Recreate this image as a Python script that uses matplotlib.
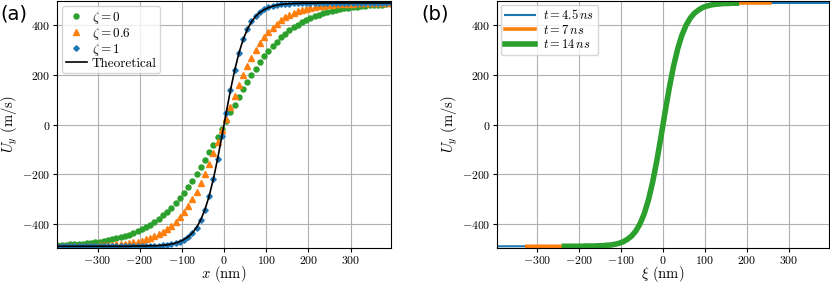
import numpy as np
import matplotlib
matplotlib.use("Agg")
import matplotlib.pyplot as plt

# Fontes estilo LaTeX
plt.rcParams['font.family'] = 'serif'
plt.rcParams['font.serif'] = ['cmr10']
plt.rcParams['mathtext.fontset'] = 'cm'
plt.rcParams['axes.formatter.use_mathtext'] = True
plt.rcParams['axes.unicode_minus'] = True

# ---- dados painel (a) ----
x_nm = np.arange(-395, 400, 10)

uy_zeta0 = [-485, -484, -483, -482, -481, -480, -479, -477, -475, -473,
            -471, -468, -465, -462, -458, -454, -449, -443, -437, -430,
            -422, -413, -403, -392, -380, -366, -351, -334, -316, -296,
            -275, -251, -226, -200, -172, -143, -112, -81, -49, -16,
            16, 49, 81, 112, 143, 172, 200, 226, 251, 275,
            296, 316, 334, 351, 366, 380, 392, 403, 413, 422,
            430, 437, 443, 449, 454, 458, 462, 465, 468, 471,
            473, 475, 477, 479, 480, 481, 482, 483, 484, 485]

uy_zeta06 = [-489, -489, -489, -489, -489, -489, -488, -488, -488, -487,
             -486, -486, -485, -484, -482, -481, -479, -477, -474, -471,
             -467, -462, -456, -449, -441, -432, -420, -407, -391, -373,
             -352, -328, -301, -270, -236, -198, -158, -115, -70, -23,
             23, 70, 115, 158, 198, 236, 270, 301, 328, 352,
             373, 391, 407, 420, 432, 441, 449, 456, 462, 467,
             471, 474, 477, 479, 481, 482, 484, 485, 486, 486,
             487, 488, 488, 488, 489, 489, 489, 489, 489, 489]

uy_zeta1 = [-490, -490, -490, -490, -490, -490, -490, -490, -490, -490,
            -490, -490, -490, -490, -490, -490, -490, -490, -490, -489,
            -489, -489, -488, -488, -487, -486, -485, -482, -478, -473,
            -465, -454, -438, -416, -385, -343, -288, -219, -138, -47,
            47, 138, 219, 288, 343, 385, 416, 438, 454, 465,
            473, 478, 482, 485, 486, 487, 488, 488, 489, 489,
            489, 490, 490, 490, 490, 490, 490, 490, 490, 490,
            490, 490, 490, 490, 490, 490, 490, 490, 490, 490]

uy_theory = [-490, -490, -490, -490, -490, -490, -490, -490, -490, -490,
             -490, -490, -490, -490, -490, -490, -490, -490, -489, -489,
             -489, -489, -488, -488, -487, -486, -484, -481, -477, -471,
             -463, -452, -436, -414, -383, -341, -286, -217, -136, -46,
             46, 136, 217, 286, 341, 383, 414, 436, 452, 463,
             471, 477, 481, 484, 486, 487, 488, 488, 489, 489,
             489, 489, 490, 490, 490, 490, 490, 490, 490, 490,
             490, 490, 490, 490, 490, 490, 490, 490, 490, 490]

# ---- dados painel (b) ----
xi_45 = np.arange(-395, 400, 10)
uy_45 = [-490, -490, -490, -490, -490, -490, -490, -490, -490, -490,
         -490, -490, -490, -490, -490, -490, -490, -490, -490, -490,
         -490, -489, -489, -489, -488, -488, -486, -485, -482, -478,
         -472, -462, -449, -429, -400, -360, -305, -234, -148, -51,
         51, 148, 234, 305, 360, 400, 429, 449, 462, 472,
         478, 482, 485, 486, 488, 488, 489, 489, 490, 490,
         490, 490, 490, 490, 490, 490, 490, 490, 490, 490,
         490, 490, 490, 490, 490, 490, 490, 490, 490, 490]

xi_7 = np.arange(-325, 260, 10)
uy_7 = [-490, -490, -490, -490, -490, -490, -490, -490, -490, -490,
        -490, -490, -490, -490, -489, -489, -489, -488, -488, -486,
        -485, -482, -478, -472, -462, -449, -429, -400, -360, -305,
        -234, -148, -51,
        51, 148, 234, 305, 360, 400, 429, 449, 462, 472,
        478, 482, 485, 486, 488, 488, 489, 489, 490, 490,
        490, 490, 490, 490, 490, 490]

xi_14 = np.arange(-235, 180, 10)
uy_14 = [-490, -490, -490, -490, -490, -489, -489, -489, -488, -488,
         -486, -485, -482, -478, -472, -462, -449, -429, -400, -360,
         -305, -234, -148, -51,
         51, 148, 234, 305, 360, 400, 429, 449, 462, 472,
         478, 482, 485, 486, 488, 488, 489, 489]

xticks = [-300, -200, -100, 0, 100, 200, 300]
yticks = [-400, -200, 0, 200, 400]

fig = plt.figure(figsize=(8.3, 2.84), dpi=100)
ax1 = fig.add_axes([0.0687, 0.1285, 0.4024, 0.868])
ax2 = fig.add_axes([0.5988, 0.1285, 0.4000, 0.868])

# Painel (a)
ax1.plot(x_nm, uy_zeta0, 'o', color='C2', ms=3.6, label=r'$\zeta=0$')
ax1.plot(x_nm, uy_zeta06, '^', color='C1', ms=3.8, label=r'$\zeta=0.6$')
ax1.plot(x_nm, uy_zeta1, 'D', color='C0', ms=2.8, label=r'$\zeta=1$')
ax1.plot(x_nm, uy_theory, '-', color='black', lw=1.2, label='Theoretical')
ax1.set_xlabel(r'$x$ (nm)', fontsize=10.5, labelpad=-1)
ax1.set_ylabel(r'$U_y$ (m/s)', fontsize=10.5, labelpad=2)
ax1.legend(loc='upper left', fontsize=9.5, handlelength=1.6, handletextpad=0.4,
           labelspacing=0.0, borderpad=0.25, borderaxespad=0.4)

# Painel (b)
ax2.plot(xi_45, uy_45, '-', color='C0', lw=1.5, label=r'$t=4.5\,ns$')
ax2.plot(xi_7, uy_7, '-', color='C1', lw=2.6, label=r'$t=7\,ns$')
ax2.plot(xi_14, uy_14, '-', color='C2', lw=4, label=r'$t=14\,ns$')
ax2.set_xlabel(r'$\xi$ (nm)', fontsize=10.5, labelpad=-1)
ax2.set_ylabel(r'$U_y$ (m/s)', fontsize=10.5, labelpad=2)
ax2.legend(loc='upper left', fontsize=9, handlelength=2.4, handletextpad=0.7,
           labelspacing=0.1, borderpad=0.3, borderaxespad=0.3)

for ax in (ax1, ax2):
    ax.set_xlim(-396, 396)
    ax.set_ylim(-495, 498)
    ax.set_xticks(xticks)
    ax.set_yticks(yticks)
    ax.tick_params(labelsize=8.5, pad=1.5, length=3)
    ax.grid(True, color='#b0b0b0', lw=0.8)

fig.text(0.0, 0.985, '(a)', fontsize=14, family='DejaVu Sans', va='top', ha='left')
fig.text(0.508, 0.985, '(b)', fontsize=14, family='DejaVu Sans', va='top', ha='left')

fig.savefig('out.png', dpi=100)
